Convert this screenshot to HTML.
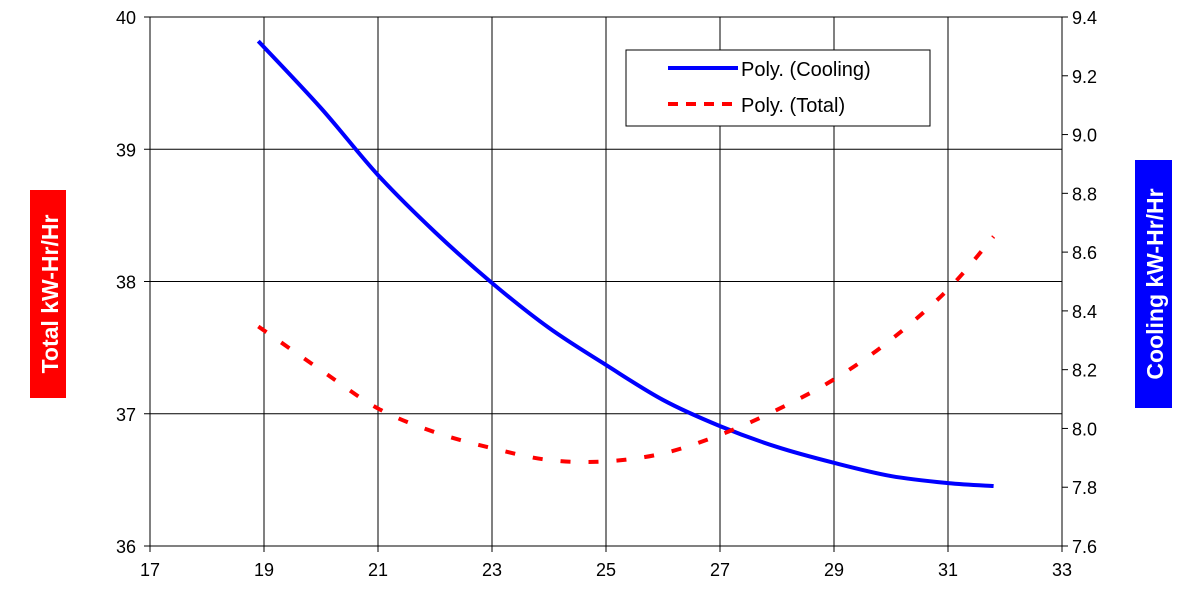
<!DOCTYPE html>
<html><head><meta charset="utf-8"><style>
body{margin:0;background:#fff;}
svg{display:block;font-family:"Liberation Sans",Arial,sans-serif;}
</style></head><body>
<svg width="1199" height="589" viewBox="0 0 1199 589">
<g id="grid"></g>
<g id="axes"></g>
<g id="series"></g>
<g>
<rect x="626" y="50" width="304" height="76" fill="#fff" stroke="#000" stroke-width="1"/>
<line x1="668" y1="68" x2="738" y2="68" stroke="#0000ff" stroke-width="4"/>
<text x="741" y="76" font-size="20">Poly. (Cooling)</text>
<line x1="668" y1="104" x2="738" y2="104" stroke="#ff0000" stroke-width="4" stroke-dasharray="10,8"/>
<text x="741" y="112" font-size="20">Poly. (Total)</text>
</g>
<g>
<rect x="30" y="190" width="36" height="208" fill="#ff0000"/>
<text transform="translate(58,294) rotate(-90)" text-anchor="middle" font-size="23" font-weight="bold" fill="#fff">Total kW-Hr/Hr</text>
</g>
<g>
<rect x="1135" y="160" width="37" height="248" fill="#0000ff"/>
<text transform="translate(1163,284) rotate(-90)" text-anchor="middle" font-size="23" font-weight="bold" fill="#fff">Cooling kW-Hr/Hr</text>
</g>
</svg>
<script>
const xTicks=[17,19,21,23,25,27,29,31,33];
const leftTicks=[36,37,38,39,40];
const rightTicks=[7.6,7.8,8.0,8.2,8.4,8.6,8.8,9.0,9.2,9.4];
const coolX=[18.9,20,21,22,23,24,25,26,27,28,29,30,31,31.8];
const coolY=[9.318,9.09,8.862,8.668,8.495,8.342,8.216,8.097,8.008,7.937,7.883,7.838,7.814,7.804];
const totX=[18.9,20,21,22,23,24,25,26,27,28,29,30,31,31.8];
const totY=[37.66,37.33,37.04,36.86,36.74,36.65,36.64,36.70,36.84,37.03,37.26,37.56,37.94,38.34];
const L=150,R=1062,T=17,B=546;
const sx=v=>L+(v-17)/16*(R-L);
const syL=v=>B-(v-36)/4*(B-T);
const syR=v=>B-(v-7.6)/1.8*(B-T);
const NS='http://www.w3.org/2000/svg';
function mk(tag,attrs,parent,txt){const e=document.createElementNS(NS,tag);for(const k in attrs)e.setAttribute(k,attrs[k]);if(txt!==undefined)e.textContent=txt;document.getElementById(parent).appendChild(e);return e;}
xTicks.forEach(v=>{if(v>17&&v<33){const l=mk('line',{x1:sx(v),y1:T,x2:sx(v),y2:B,stroke:'#000','stroke-width':1},'grid');

}
mk('line',{x1:sx(v),y1:B,x2:sx(v),y2:B+6,stroke:'#000'},'axes');
const t=mk('text',{x:sx(v),y:B+30,'text-anchor':'middle','font-size':18},'axes',String(v));

});
leftTicks.forEach(v=>{if(v>36&&v<40){const l=mk('line',{x1:L,y1:syL(v),x2:R,y2:syL(v),stroke:'#000','stroke-width':1},'grid');

}
mk('line',{x1:L-6,y1:syL(v),x2:L,y2:syL(v),stroke:'#000'},'axes');
const t=mk('text',{x:L-14,y:syL(v)+7,'text-anchor':'end','font-size':18},'axes',String(v));

});
rightTicks.forEach(v=>{mk('line',{x1:R,y1:syR(v),x2:R+6,y2:syR(v),stroke:'#000'},'axes');
const t=mk('text',{x:R+10,y:syR(v)+7,'font-size':18},'axes',v.toFixed(1));

});
const fr=mk('rect',{x:L,y:T,width:R-L,height:B-T,fill:'none',stroke:'#000','stroke-width':1},'axes');


function smooth(pts){let d='M'+pts[0][0]+','+pts[0][1];for(let i=0;i<pts.length-1;i++){const p0=pts[i-1]||pts[i],p1=pts[i],p2=pts[i+1],p3=pts[i+2]||p2;
d+=' C'+(p1[0]+(p2[0]-p0[0])/6)+','+(p1[1]+(p2[1]-p0[1])/6)+' '+(p2[0]-(p3[0]-p1[0])/6)+','+(p2[1]-(p3[1]-p1[1])/6)+' '+p2[0]+','+p2[1];}return d;}
const c=mk('path',{d:smooth(coolX.map((x,i)=>[sx(x),syR(coolY[i])])),fill:'none',stroke:'#0000ff','stroke-width':4},'series');


const t=mk('path',{d:smooth(totX.map((x,i)=>[sx(x),syL(totY[i])])),fill:'none',stroke:'#ff0000','stroke-width':4,'stroke-dasharray':'10,18'},'series');


</script>
</body></html>
